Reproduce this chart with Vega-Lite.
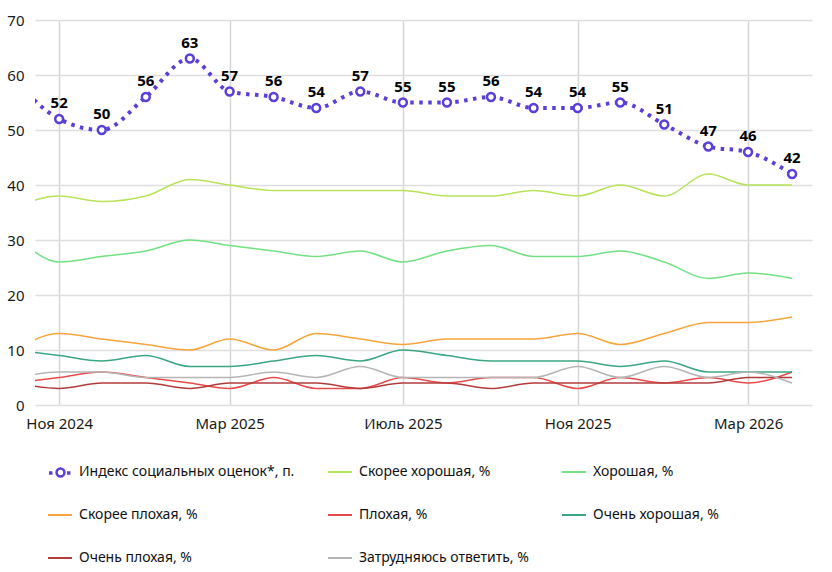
{
  "$schema": "https://vega.github.io/schema/vega-lite/v6.json",
  "width": 777,
  "height": 385,
  "autosize": {"type": "none"},
  "padding": {"left": 35, "top": 20, "right": 20, "bottom": 167},
  "background": "white",
  "config": {"view": {"stroke": null}, "font": "Noto Sans"},
  "data": {
    "values": [
      {"d": "2024-10-01", "s": "Индекс социальных оценок*, п.", "v": 59},
      {"d": "2024-11-01", "s": "Индекс социальных оценок*, п.", "v": 52},
      {"d": "2024-12-01", "s": "Индекс социальных оценок*, п.", "v": 50},
      {"d": "2025-01-01", "s": "Индекс социальных оценок*, п.", "v": 56},
      {"d": "2025-02-01", "s": "Индекс социальных оценок*, п.", "v": 63},
      {"d": "2025-03-01", "s": "Индекс социальных оценок*, п.", "v": 57},
      {"d": "2025-04-01", "s": "Индекс социальных оценок*, п.", "v": 56},
      {"d": "2025-05-01", "s": "Индекс социальных оценок*, п.", "v": 54},
      {"d": "2025-06-01", "s": "Индекс социальных оценок*, п.", "v": 57},
      {"d": "2025-07-01", "s": "Индекс социальных оценок*, п.", "v": 55},
      {"d": "2025-08-01", "s": "Индекс социальных оценок*, п.", "v": 55},
      {"d": "2025-09-01", "s": "Индекс социальных оценок*, п.", "v": 56},
      {"d": "2025-10-01", "s": "Индекс социальных оценок*, п.", "v": 54},
      {"d": "2025-11-01", "s": "Индекс социальных оценок*, п.", "v": 54},
      {"d": "2025-12-01", "s": "Индекс социальных оценок*, п.", "v": 55},
      {"d": "2026-01-01", "s": "Индекс социальных оценок*, п.", "v": 51},
      {"d": "2026-02-01", "s": "Индекс социальных оценок*, п.", "v": 47},
      {"d": "2026-03-01", "s": "Индекс социальных оценок*, п.", "v": 46},
      {"d": "2026-04-01", "s": "Индекс социальных оценок*, п.", "v": 42},

      {"d": "2024-10-01", "s": "Скорее хорошая, %", "v": 36},
      {"d": "2024-11-01", "s": "Скорее хорошая, %", "v": 38},
      {"d": "2024-12-01", "s": "Скорее хорошая, %", "v": 37},
      {"d": "2025-01-01", "s": "Скорее хорошая, %", "v": 38},
      {"d": "2025-02-01", "s": "Скорее хорошая, %", "v": 41},
      {"d": "2025-03-01", "s": "Скорее хорошая, %", "v": 40},
      {"d": "2025-04-01", "s": "Скорее хорошая, %", "v": 39},
      {"d": "2025-05-01", "s": "Скорее хорошая, %", "v": 39},
      {"d": "2025-06-01", "s": "Скорее хорошая, %", "v": 39},
      {"d": "2025-07-01", "s": "Скорее хорошая, %", "v": 39},
      {"d": "2025-08-01", "s": "Скорее хорошая, %", "v": 38},
      {"d": "2025-09-01", "s": "Скорее хорошая, %", "v": 38},
      {"d": "2025-10-01", "s": "Скорее хорошая, %", "v": 39},
      {"d": "2025-11-01", "s": "Скорее хорошая, %", "v": 38},
      {"d": "2025-12-01", "s": "Скорее хорошая, %", "v": 40},
      {"d": "2026-01-01", "s": "Скорее хорошая, %", "v": 38},
      {"d": "2026-02-01", "s": "Скорее хорошая, %", "v": 42},
      {"d": "2026-03-01", "s": "Скорее хорошая, %", "v": 40},
      {"d": "2026-04-01", "s": "Скорее хорошая, %", "v": 40},

      {"d": "2024-10-01", "s": "Хорошая, %", "v": 31},
      {"d": "2024-11-01", "s": "Хорошая, %", "v": 26},
      {"d": "2024-12-01", "s": "Хорошая, %", "v": 27},
      {"d": "2025-01-01", "s": "Хорошая, %", "v": 28},
      {"d": "2025-02-01", "s": "Хорошая, %", "v": 30},
      {"d": "2025-03-01", "s": "Хорошая, %", "v": 29},
      {"d": "2025-04-01", "s": "Хорошая, %", "v": 28},
      {"d": "2025-05-01", "s": "Хорошая, %", "v": 27},
      {"d": "2025-06-01", "s": "Хорошая, %", "v": 28},
      {"d": "2025-07-01", "s": "Хорошая, %", "v": 26},
      {"d": "2025-08-01", "s": "Хорошая, %", "v": 28},
      {"d": "2025-09-01", "s": "Хорошая, %", "v": 29},
      {"d": "2025-10-01", "s": "Хорошая, %", "v": 27},
      {"d": "2025-11-01", "s": "Хорошая, %", "v": 27},
      {"d": "2025-12-01", "s": "Хорошая, %", "v": 28},
      {"d": "2026-01-01", "s": "Хорошая, %", "v": 26},
      {"d": "2026-02-01", "s": "Хорошая, %", "v": 23},
      {"d": "2026-03-01", "s": "Хорошая, %", "v": 24},
      {"d": "2026-04-01", "s": "Хорошая, %", "v": 23},

      {"d": "2024-10-01", "s": "Скорее плохая, %", "v": 10},
      {"d": "2024-11-01", "s": "Скорее плохая, %", "v": 13},
      {"d": "2024-12-01", "s": "Скорее плохая, %", "v": 12},
      {"d": "2025-01-01", "s": "Скорее плохая, %", "v": 11},
      {"d": "2025-02-01", "s": "Скорее плохая, %", "v": 10},
      {"d": "2025-03-01", "s": "Скорее плохая, %", "v": 12},
      {"d": "2025-04-01", "s": "Скорее плохая, %", "v": 10},
      {"d": "2025-05-01", "s": "Скорее плохая, %", "v": 13},
      {"d": "2025-06-01", "s": "Скорее плохая, %", "v": 12},
      {"d": "2025-07-01", "s": "Скорее плохая, %", "v": 11},
      {"d": "2025-08-01", "s": "Скорее плохая, %", "v": 12},
      {"d": "2025-09-01", "s": "Скорее плохая, %", "v": 12},
      {"d": "2025-10-01", "s": "Скорее плохая, %", "v": 12},
      {"d": "2025-11-01", "s": "Скорее плохая, %", "v": 13},
      {"d": "2025-12-01", "s": "Скорее плохая, %", "v": 11},
      {"d": "2026-01-01", "s": "Скорее плохая, %", "v": 13},
      {"d": "2026-02-01", "s": "Скорее плохая, %", "v": 15},
      {"d": "2026-03-01", "s": "Скорее плохая, %", "v": 15},
      {"d": "2026-04-01", "s": "Скорее плохая, %", "v": 16},

      {"d": "2024-10-01", "s": "Плохая, %", "v": 4},
      {"d": "2024-11-01", "s": "Плохая, %", "v": 5},
      {"d": "2024-12-01", "s": "Плохая, %", "v": 6},
      {"d": "2025-01-01", "s": "Плохая, %", "v": 5},
      {"d": "2025-02-01", "s": "Плохая, %", "v": 4},
      {"d": "2025-03-01", "s": "Плохая, %", "v": 3},
      {"d": "2025-04-01", "s": "Плохая, %", "v": 5},
      {"d": "2025-05-01", "s": "Плохая, %", "v": 3},
      {"d": "2025-06-01", "s": "Плохая, %", "v": 3},
      {"d": "2025-07-01", "s": "Плохая, %", "v": 5},
      {"d": "2025-08-01", "s": "Плохая, %", "v": 4},
      {"d": "2025-09-01", "s": "Плохая, %", "v": 5},
      {"d": "2025-10-01", "s": "Плохая, %", "v": 5},
      {"d": "2025-11-01", "s": "Плохая, %", "v": 3},
      {"d": "2025-12-01", "s": "Плохая, %", "v": 5},
      {"d": "2026-01-01", "s": "Плохая, %", "v": 4},
      {"d": "2026-02-01", "s": "Плохая, %", "v": 5},
      {"d": "2026-03-01", "s": "Плохая, %", "v": 4},
      {"d": "2026-04-01", "s": "Плохая, %", "v": 6},

      {"d": "2024-10-01", "s": "Очень хорошая, %", "v": 10},
      {"d": "2024-11-01", "s": "Очень хорошая, %", "v": 9},
      {"d": "2024-12-01", "s": "Очень хорошая, %", "v": 8},
      {"d": "2025-01-01", "s": "Очень хорошая, %", "v": 9},
      {"d": "2025-02-01", "s": "Очень хорошая, %", "v": 7},
      {"d": "2025-03-01", "s": "Очень хорошая, %", "v": 7},
      {"d": "2025-04-01", "s": "Очень хорошая, %", "v": 8},
      {"d": "2025-05-01", "s": "Очень хорошая, %", "v": 9},
      {"d": "2025-06-01", "s": "Очень хорошая, %", "v": 8},
      {"d": "2025-07-01", "s": "Очень хорошая, %", "v": 10},
      {"d": "2025-08-01", "s": "Очень хорошая, %", "v": 9},
      {"d": "2025-09-01", "s": "Очень хорошая, %", "v": 8},
      {"d": "2025-10-01", "s": "Очень хорошая, %", "v": 8},
      {"d": "2025-11-01", "s": "Очень хорошая, %", "v": 8},
      {"d": "2025-12-01", "s": "Очень хорошая, %", "v": 7},
      {"d": "2026-01-01", "s": "Очень хорошая, %", "v": 8},
      {"d": "2026-02-01", "s": "Очень хорошая, %", "v": 6},
      {"d": "2026-03-01", "s": "Очень хорошая, %", "v": 6},
      {"d": "2026-04-01", "s": "Очень хорошая, %", "v": 6},

      {"d": "2024-10-01", "s": "Очень плохая, %", "v": 4},
      {"d": "2024-11-01", "s": "Очень плохая, %", "v": 3},
      {"d": "2024-12-01", "s": "Очень плохая, %", "v": 4},
      {"d": "2025-01-01", "s": "Очень плохая, %", "v": 4},
      {"d": "2025-02-01", "s": "Очень плохая, %", "v": 3},
      {"d": "2025-03-01", "s": "Очень плохая, %", "v": 4},
      {"d": "2025-04-01", "s": "Очень плохая, %", "v": 4},
      {"d": "2025-05-01", "s": "Очень плохая, %", "v": 4},
      {"d": "2025-06-01", "s": "Очень плохая, %", "v": 3},
      {"d": "2025-07-01", "s": "Очень плохая, %", "v": 4},
      {"d": "2025-08-01", "s": "Очень плохая, %", "v": 4},
      {"d": "2025-09-01", "s": "Очень плохая, %", "v": 3},
      {"d": "2025-10-01", "s": "Очень плохая, %", "v": 4},
      {"d": "2025-11-01", "s": "Очень плохая, %", "v": 4},
      {"d": "2025-12-01", "s": "Очень плохая, %", "v": 4},
      {"d": "2026-01-01", "s": "Очень плохая, %", "v": 4},
      {"d": "2026-02-01", "s": "Очень плохая, %", "v": 4},
      {"d": "2026-03-01", "s": "Очень плохая, %", "v": 5},
      {"d": "2026-04-01", "s": "Очень плохая, %", "v": 5},

      {"d": "2024-10-01", "s": "Затрудняюсь ответить, %", "v": 5},
      {"d": "2024-11-01", "s": "Затрудняюсь ответить, %", "v": 6},
      {"d": "2024-12-01", "s": "Затрудняюсь ответить, %", "v": 6},
      {"d": "2025-01-01", "s": "Затрудняюсь ответить, %", "v": 5},
      {"d": "2025-02-01", "s": "Затрудняюсь ответить, %", "v": 5},
      {"d": "2025-03-01", "s": "Затрудняюсь ответить, %", "v": 5},
      {"d": "2025-04-01", "s": "Затрудняюсь ответить, %", "v": 6},
      {"d": "2025-05-01", "s": "Затрудняюсь ответить, %", "v": 5},
      {"d": "2025-06-01", "s": "Затрудняюсь ответить, %", "v": 7},
      {"d": "2025-07-01", "s": "Затрудняюсь ответить, %", "v": 5},
      {"d": "2025-08-01", "s": "Затрудняюсь ответить, %", "v": 5},
      {"d": "2025-09-01", "s": "Затрудняюсь ответить, %", "v": 5},
      {"d": "2025-10-01", "s": "Затрудняюсь ответить, %", "v": 5},
      {"d": "2025-11-01", "s": "Затрудняюсь ответить, %", "v": 7},
      {"d": "2025-12-01", "s": "Затрудняюсь ответить, %", "v": 5},
      {"d": "2026-01-01", "s": "Затрудняюсь ответить, %", "v": 7},
      {"d": "2026-02-01", "s": "Затрудняюсь ответить, %", "v": 5},
      {"d": "2026-03-01", "s": "Затрудняюсь ответить, %", "v": 6},
      {"d": "2026-04-01", "s": "Затрудняюсь ответить, %", "v": 4}
    ]
  },
  "encoding": {
    "x": {
      "field": "d",
      "type": "temporal",
      "scale": {
        "type": "utc",
        "domain": [1728950400000, 1776211200000]
      },
      "axis": {
        "title": null,
        "values": [1730419200000, 1740787200000, 1751328000000, 1761955200000, 1772323200000],
        "labelExpr": "['Янв','Фев','Мар','Апр','Май','Июнь','Июль','Авг','Сен','Окт','Ноя','Дек'][utcmonth(datum.value)] + ' ' + utcyear(datum.value)",
        "grid": true,
        "gridColor": "#d6d6d6",
        "gridWidth": 1.5,
        "ticks": false,
        "domain": false,
        "labelFlush": false,
        "labelOverlap": false,
        "labelFont": "Noto Sans",
        "labelFontSize": 15,
        "labelColor": "#1a1a1a",
        "labelPadding": 11
      }
    },
    "y": {
      "field": "v",
      "type": "quantitative",
      "scale": {"domain": [0, 70], "nice": false},
      "axis": {
        "title": null,
        "values": [0, 10, 20, 30, 40, 50, 60, 70],
        "grid": true,
        "gridColor": "#dedede",
        "gridWidth": 1.5,
        "ticks": false,
        "domain": false,
        "labelFont": "Noto Sans",
        "labelFontSize": 15,
        "labelColor": "#1a1a1a",
        "labelPadding": 11
      }
    }
  },
  "layer": [
    {
      "transform": [{"filter": "datum.s !== 'Индекс социальных оценок*, п.'"}],
      "mark": {"type": "line", "interpolate": "monotone", "strokeWidth": 1.5, "clip": true},
      "encoding": {
        "color": {
          "field": "s",
          "type": "nominal",
          "scale": {
            "domain": [
              "Индекс социальных оценок*, п.",
              "Скорее хорошая, %",
              "Хорошая, %",
              "Скорее плохая, %",
              "Плохая, %",
              "Очень хорошая, %",
              "Очень плохая, %",
              "Затрудняюсь ответить, %"
            ],
            "range": ["transparent", "#b7e35a", "#72e083", "#f5a53c", "#e84b4b", "#3ca584", "#b23c3c", "#b5b5b5"]
          },
          "legend": {
            "title": null,
            "orient": "none",
            "legendX": 12,
            "legendY": 439,
            "columns": 3,
            "direction": "horizontal",
            "gridAlign": "each",
            "symbolType": "stroke",
            "symbolSize": 576,
            "symbolStrokeWidth": 2,
            "labelFont": "Noto Sans",
            "labelFontSize": 14,
            "labelColor": "#111111",
            "labelLimit": 320,
            "labelOffset": 6,
            "rowPadding": 23,
            "columnPadding": 29
          }
        }
      }
    },
    {
      "transform": [{"filter": "datum.s === 'Индекс социальных оценок*, п.'"}],
      "mark": {"type": "line", "interpolate": "monotone", "strokeWidth": 4, "clip": true},
      "encoding": {
        "stroke": {"value": "#5a3fd8"},
        "strokeDash": {
          "field": "s",
          "type": "nominal",
          "scale": {"domain": ["Индекс социальных оценок*, п."], "range": [[3.5, 5.5]]},
          "legend": {
            "title": null,
            "orient": "none",
            "legendX": 12,
            "legendY": 439,
            "symbolType": "stroke",
            "symbolSize": 576,
            "symbolStrokeWidth": 3.5,
            "labelExpr": "''",
            "labelFontSize": 14
          }
        }
      }
    },
    {
      "transform": [{"filter": "datum.s === 'Индекс социальных оценок*, п.' && +datum.d > 1728950400000"}],
      "mark": {"type": "point", "size": 576, "strokeWidth": 2.5, "clip": true},
      "encoding": {
        "shape": {
          "field": "s",
          "type": "nominal",
          "scale": {"domain": {"unionWith": ["Индекс социальных оценок*, п."]}, "range": ["M0.33,0A0.33,0.33 0 1,1 -0.33,0A0.33,0.33 0 1,1 0.33,0Z"]},
          "legend": {
            "title": null,
            "orient": "none",
            "legendX": 12,
            "legendY": 439,
            "symbolSize": 576,
            "symbolStrokeWidth": 2.5,
            "symbolOpacity": 1,
            "labelExpr": "''",
            "labelFontSize": 14
          }
        },
        "fill": {"value": "white"},
        "stroke": {"value": "#5a3fd8"},
        "opacity": {"value": 1}
      }
    },
    {
      "transform": [{"filter": "datum.s === 'Индекс социальных оценок*, п.' && +datum.d > 1728950400000"}],
      "mark": {"type": "text", "dy": -16, "fontSize": 15, "fontWeight": "bold", "font": "Noto Sans", "color": "#000000", "clip": true},
      "encoding": {
        "text": {"field": "v", "type": "quantitative"}
      }
    }
  ]
}
